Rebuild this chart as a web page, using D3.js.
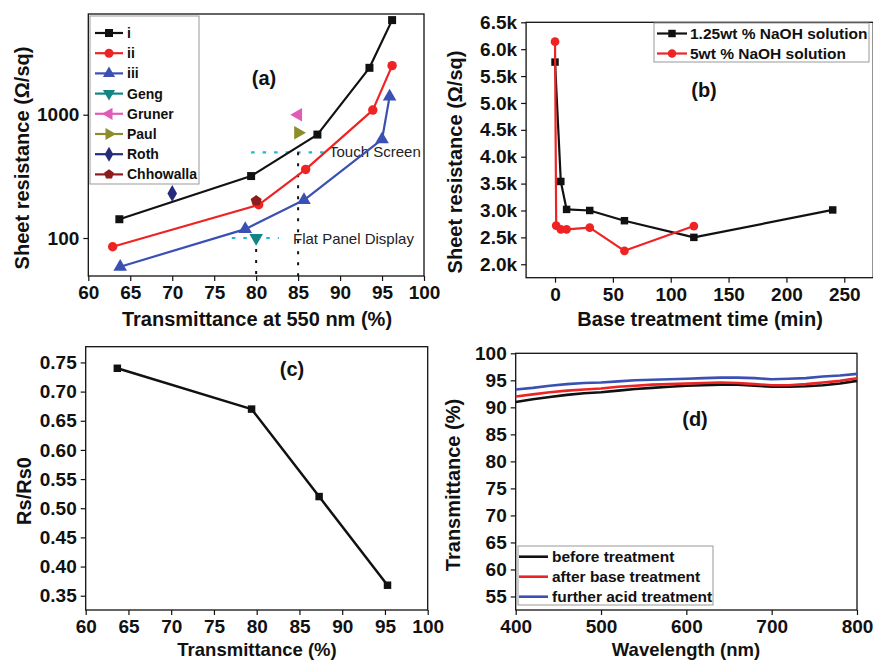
<!DOCTYPE html>
<html>
<head>
<meta charset="utf-8">
<script src="https://cdn.jsdelivr.net/npm/d3@7"></script>
<style>
body{margin:0;background:#fff;}
svg{display:block;font-family:"Liberation Sans",Arial,sans-serif;}
</style>
</head>
<body>
<svg width="873" height="660"></svg>
<script>
// ---- data ----
// (a) sheet resistance vs transmittance
var aNames=['i','ii','iii','Geng','Gruner','Paul','Roth','Chhowalla'];
var aXi=[63.7,79.4,87.3,93.5,96.2],   aYi=[142,318,690,2400,5850];
var aXii=[62.9,80.3,85.9,93.9,96.2],  aYii=[85,186,360,1090,2500];
var aXiii=[63.8,78.7,85.7,95.0,95.9], aYiii=[58.5,118,203,630,1400];
var refX=[80,85,85,70,80];
var refY=[100,1000,714,230,200];
var aXTicks=[60,65,70,75,80,85,90,95,100];
var aYTicks=[100,1000];
var aYMinor=[50,60,70,80,90,200,300,400,500,600,700,800,900,2000,3000,4000,5000,6000];

// (b) sheet resistance vs base treatment time
var bNames=['1.25wt % NaOH solution','5wt % NaOH solution'];
var bT1=[0,5,10,30,60,120,240], bR1=[5760,3540,3020,3000,2810,2500,3010];
var bT2=[0,1,5,10,30,60,120],   bR2=[6140,2720,2650,2650,2680,2250,2710];
var bXTicks=[0,50,100,150,200,250];
var bYTicks=[2000,2500,3000,3500,4000,4500,5000,5500,6000,6500];

// (c) Rs/Rs0 vs transmittance
var cT=[63.7,79.4,87.3,95.3];
var cR=[0.740,0.670,0.520,0.368];
var cXTicks=[60,65,70,75,80,85,90,95,100];
var cYTicks=[0.35,0.40,0.45,0.50,0.55,0.60,0.65,0.70,0.75];

// (d) transmittance spectra
var dNames=['before treatment','after base treatment','further acid treatment'];
var dWl=[400,420,440,460,480,500,520,540,560,580,600,620,640,660,680,700,720,740,760,780,800];
var dBefore=[91.0,91.5,91.9,92.3,92.6,92.8,93.1,93.4,93.6,93.8,94.0,94.1,94.2,94.2,94.0,93.8,93.8,93.9,94.1,94.4,94.9];
var dBase=[92.0,92.4,92.8,93.1,93.3,93.5,93.8,94.0,94.2,94.3,94.4,94.5,94.6,94.5,94.3,94.1,94.1,94.3,94.6,94.9,95.4];
var dAcid=[93.3,93.6,94.0,94.3,94.5,94.6,94.8,95.0,95.1,95.2,95.3,95.4,95.5,95.5,95.4,95.2,95.3,95.4,95.7,95.9,96.2];
var dXTicks=[400,500,600,700,800];
var dYTicks=[55,60,65,70,75,80,85,90,95,100];

var svg=d3.select('svg');

var RED='#ee2424', BLUE='#3a50b2', CYAN='#1cb8d2';

function pentagon(){
	return {draw:function(ctx,size){
		var r=Math.sqrt(size/2.4);
		for(var i=0;i<5;i++){
			var a=-Math.PI/2+i*2*Math.PI/5;
			if(i===0) ctx.moveTo(r*Math.cos(a),r*Math.sin(a));
			else ctx.lineTo(r*Math.cos(a),r*Math.sin(a));
		}
		ctx.closePath();
	}};
}

// draws axes + frame for one panel
function frame(x,y,xTicks,xMinor,yTicks,yMinor,xFmt,yFmt){
	var x0=x.range()[0], x1=x.range()[1];
	var y0=y.range()[0], y1=y.range()[1];

	var gx=svg.append('g').attr('transform','translate(0,'+y0+')');
	gx.call(d3.axisBottom(x).tickValues(xMinor).tickSize(3).tickFormat('').tickSizeOuter(0));
	gx.call(d3.axisBottom(x).tickValues(xTicks).tickSize(5).tickPadding(2).tickFormat(xFmt).tickSizeOuter(0));

	var gy=svg.append('g').attr('transform','translate('+x0+',0)');
	gy.call(d3.axisLeft(y).tickValues(yMinor).tickSize(3).tickFormat('').tickSizeOuter(0));
	gy.call(d3.axisLeft(y).tickValues(yTicks).tickSize(5).tickPadding(4).tickFormat(yFmt).tickSizeOuter(0));

	[gx,gy].forEach(function(g){
		g.attr('font-family',null).attr('font-size',null);
		g.selectAll('path.domain').remove();
		g.selectAll('line').attr('stroke','#111').attr('stroke-width',1.2);
		g.selectAll('text').attr('fill','#111').style('font-size','19px').style('font-weight','bold');
	});
	gx.selectAll('text').attr('dy','0.85em');

	svg.append('rect')
		.attr('x',x0).attr('y',y1)
		.attr('width',x1-x0).attr('height',y0-y1)
		.attr('fill','none').attr('stroke','#111').attr('stroke-width',1.3);
}

function title(x,y,txt,rot,size){
	svg.append('text')
		.attr('transform','translate('+x+','+y+')'+(rot?' rotate(-90)':''))
		.attr('text-anchor','middle')
		.style('font-size',(size||20)+'px').style('font-weight','bold')
		.attr('fill','#111')
		.text(txt);
}

function series(x,y,xs,ys,color,sym,size,lw){
	var pts=xs.map(function(v,i){return [x(v),y(ys[i])];});
	if(lw) svg.append('path')
		.attr('d',d3.line()(pts))
		.attr('fill','none').attr('stroke',color).attr('stroke-width',lw)
		.attr('stroke-linejoin','round');
	if(sym) svg.append('g').selectAll('path')
		.data(pts).enter().append('path')
		.attr('transform',function(p){return 'translate('+p[0]+','+p[1]+')'+(sym.rot?' rotate('+sym.rot+')':'');})
		.attr('d',d3.symbol().type(sym.type).size(size))
		.attr('fill',color);
}

function between(a,b,step){
	var r=[];
	for(var v=a;v<=b+1e-9;v+=step) r.push(+v.toFixed(4));
	return r;
}

// ================= (a) =================
var ax=d3.scaleLinear().domain([60,100]).range([88.3,424]);
var ay=d3.scaleLog().domain([49.2,6556]).range([276,14]);
frame(ax,ay,aXTicks,between(60,100,2.5),aYTicks,aYMinor,d3.format('d'),d3.format('d'));

// guide lines
svg.append('line').attr('x1',ax(79.4)).attr('x2',ax(88.1)).attr('y1',ay(495)).attr('y2',ay(495))
	.attr('stroke',CYAN).attr('stroke-width',2.2).attr('stroke-dasharray','3.5,8');
svg.append('line').attr('x1',ax(77.1)).attr('x2',ax(82.7)).attr('y1',ay(100)).attr('y2',ay(100))
	.attr('stroke',CYAN).attr('stroke-width',2.2).attr('stroke-dasharray','3.5,8');
svg.append('line').attr('x1',ax(80)).attr('x2',ax(80)).attr('y1',ay(100)).attr('y2',ay(49.2))
	.attr('stroke','#111').attr('stroke-width',2).attr('stroke-dasharray','3,8');
svg.append('line').attr('x1',ax(85)).attr('x2',ax(85)).attr('y1',ay(495)).attr('y2',ay(49.2))
	.attr('stroke','#111').attr('stroke-width',2).attr('stroke-dasharray','3,8');
svg.append('text').attr('x',329).attr('y',ay(495)+5).style('font-size','15px').attr('fill','#222').text('Touch Screen');
svg.append('text').attr('x',293).attr('y',ay(100)+6).style('font-size','15px').attr('fill','#222').text('Flat Panel Display');

var aSyms=[
	{type:d3.symbolSquare,c:'#111'},
	{type:d3.symbolCircle,c:RED},
	{type:d3.symbolTriangle,c:BLUE},
	{type:d3.symbolTriangle,rot:180,c:'#138484'},
	{type:d3.symbolTriangle,rot:-90,c:'#e05cb8'},
	{type:d3.symbolTriangle,rot:90,c:'#8c8c2c'},
	{type:d3.symbolDiamond,c:'#262c7c'},
	{type:pentagon(),c:'#8e1c1c'}
];
series(ax,ay,aXi,aYi,'#111',aSyms[0],64,2.2);
series(ax,ay,aXii,aYii,RED,aSyms[1],70,2.2);
series(ax,ay,aXiii,aYiii,BLUE,aSyms[2],80,2.2);
refX.forEach(function(v,i){
	series(ax,ay,[v],[refY[i]],aSyms[i+3].c,aSyms[i+3],80,0);
});

// legend (a)
svg.append('rect').attr('x',90).attr('y',16).attr('width',109).attr('height',168)
	.attr('fill','#fff').attr('stroke','#999').attr('stroke-width',1);
aNames.forEach(function(n,i){
	var yy=33+i*20.2;
	svg.append('line').attr('x1',95).attr('x2',123).attr('y1',yy).attr('y2',yy)
		.attr('stroke',aSyms[i].c).attr('stroke-width',2.2);
	svg.append('path').attr('transform','translate(109,'+yy+')'+(aSyms[i].rot?' rotate('+aSyms[i].rot+')':''))
		.attr('d',d3.symbol().type(aSyms[i].type).size(64)).attr('fill',aSyms[i].c);
	svg.append('text').attr('x',127).attr('y',yy+5).style('font-size','14px').style('font-weight','bold')
		.attr('fill','#111').text(n);
});
title(264,85,'(a)',false,20);
title(257,326,'Transmittance at 550 nm (%)',false,20);
title(29,158,'Sheet resistance (\u03A9/sq)',true,20);

// ================= (b) =================
var bx=d3.scaleLinear().domain([-25,275]).range([526.1,873.2]);
var by=d3.scaleLinear().domain([1750,6500]).range([277.7,22.3]);
frame(bx,by,bXTicks,between(-25,275,25),bYTicks,between(1750,6500,250),d3.format('d'),function(d){return (d/1000).toFixed(1)+'k';});
series(bx,by,bT1,bR1,'#111',{type:d3.symbolSquare},56,2.2);
series(bx,by,bT2,bR2,RED,{type:d3.symbolCircle},60,2.2);

svg.append('rect').attr('x',654).attr('y',23).attr('width',215).attr('height',39)
	.attr('fill','#fff').attr('stroke','#999').attr('stroke-width',1);
[['#111',d3.symbolSquare],[RED,d3.symbolCircle]].forEach(function(s,i){
	var yy=33.5+i*20;
	svg.append('line').attr('x1',657).attr('x2',687).attr('y1',yy).attr('y2',yy)
		.attr('stroke',s[0]).attr('stroke-width',2.2);
	svg.append('path').attr('transform','translate(672,'+yy+')')
		.attr('d',d3.symbol().type(s[1]).size(56)).attr('fill',s[0]);
	svg.append('text').attr('x',690).attr('y',yy+5.5).style('font-size','15.5px').style('font-weight','bold')
		.attr('fill','#111').text(bNames[i]);
});
title(704,97,'(b)',false,20);
title(700,326,'Base treatment time (min)',false,20);
title(462,162,'Sheet resistance (\u03A9/sq)',true,20);

// ================= (c) =================
var cx=d3.scaleLinear().domain([60,100]).range([85.7,427.7]);
var cy=d3.scaleLinear().domain([0.3255,0.777]).range([610,346.7]);
frame(cx,cy,cXTicks,between(60,100,2.5),cYTicks,between(0.35,0.775,0.025),d3.format('d'),d3.format('.2f'));
series(cx,cy,cT,cR,'#111',{type:d3.symbolSquare},56,2.5);
title(292,376,'(c)',false,20);
title(257,656,'Transmittance (%)',false,18.5);
title(31,491,'Rs/Rs0',true,20);

// ================= (d) =================
var dx=d3.scaleLinear().domain([400,800]).range([515.7,857]);
var dy=d3.scaleLinear().domain([52.5,100]).range([610,353.3]);
frame(dx,dy,dXTicks,between(400,800,50),dYTicks,between(52.5,100,2.5),d3.format('d'),d3.format('d'));
series(dx,dy,dWl,dBefore,'#111',null,0,2.6);
series(dx,dy,dWl,dBase,RED,null,0,2.6);
series(dx,dy,dWl,dAcid,BLUE,null,0,2.6);

svg.append('rect').attr('x',518).attr('y',546).attr('width',195).attr('height',59)
	.attr('fill','#fff').attr('stroke','#999').attr('stroke-width',1);
['#111',RED,BLUE].forEach(function(c,i){
	var yy=556.7+i*20;
	svg.append('line').attr('x1',519).attr('x2',548).attr('y1',yy).attr('y2',yy)
		.attr('stroke',c).attr('stroke-width',2.6);
	svg.append('text').attr('x',552).attr('y',yy+5.5).style('font-size','15.5px').style('font-weight','bold')
		.attr('fill','#111').text(dNames[i]);
});
title(695,426,'(d)',false,20);
title(686,656,'Wavelength (nm)',false,18.5);
title(460,485,'Transmittance (%)',true,20);
</script>
</body>
</html>
